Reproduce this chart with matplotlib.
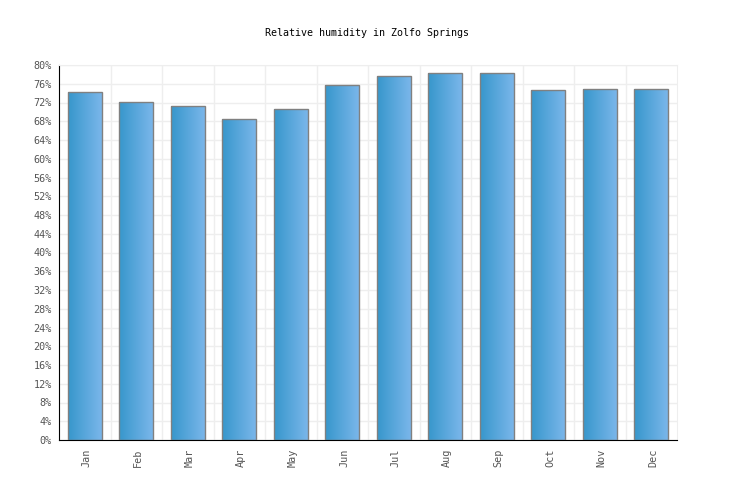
import numpy as np
import matplotlib
matplotlib.use("Agg")
import matplotlib.pyplot as plt
from matplotlib.colors import LinearSegmentedColormap
from matplotlib.transforms import ScaledTranslation

# Monthly relative humidity (%)
months = ["Jan", "Feb", "Mar", "Apr", "May", "Jun",
          "Jul", "Aug", "Sep", "Oct", "Nov", "Dec"]
humidity = [74.2, 72.2, 71.2, 68.4, 70.6, 75.7,
            77.6, 78.2, 78.4, 74.6, 74.8, 74.8]
y_ticks = list(range(0, 81, 4))

plt.rcParams["font.family"] = "DejaVu Sans Mono"

fig = plt.figure(figsize=(7.36, 5.0), dpi=100)
ax = fig.add_axes([59 / 736, 60 / 500, 618 / 736, 375 / 500])

x = np.arange(len(months))
bars = ax.bar(x, humidity, width=0.66, facecolor="none",
              edgecolor="#808080", linewidth=1.0, zorder=3)

# left-to-right gradient inside each bar
grad_cmap = LinearSegmentedColormap.from_list("bar", ["#3797cc", "#7ab6ea"])
grad = np.linspace(0, 1, 64).reshape(1, -1)
for b in bars:
    x0, w, h = b.get_x(), b.get_width(), b.get_height()
    im = ax.imshow(grad, cmap=grad_cmap, aspect="auto",
                   extent=[x0, x0 + w, 0, h], zorder=2)
    im.set_clip_path(b)

ax.set_xlim(-0.5, len(months) - 0.5)
ax.set_ylim(0, 80)

ax.set_yticks(y_ticks)
ax.set_yticklabels([f"{t}%" for t in y_ticks])
ax.set_xticks(x)
ax.set_xticklabels(months, rotation=90)
ax.tick_params(axis="both", length=0, labelsize=7.3, colors="#555555")
ax.tick_params(axis="x", pad=6)
ax.tick_params(axis="y", pad=5)
# nudge month labels a bit to the right, like the original
shift = ScaledTranslation(2 / 100, 0, fig.dpi_scale_trans)
for lbl in ax.get_xticklabels():
    lbl.set_transform(lbl.get_transform() + shift)

# grid: horizontal at every tick, vertical at category boundaries
for t in y_ticks:
    ax.axhline(t, color="#eeeeee", linewidth=1, zorder=0)
for b in np.arange(0.5, len(months) - 0.5, 1):
    ax.axvline(b, color="#eeeeee", linewidth=1, zorder=0)

for side in ["top", "right"]:
    ax.spines[side].set_color("#eeeeee")
ax.spines["left"].set_color("black")
ax.spines["bottom"].set_color("black")

fig.text(367 / 736, 1 - 33 / 500, "Relative humidity in Zolfo Springs",
         ha="center", va="center", fontsize=7.2, color="black")

fig.savefig("out.png", dpi=100)
